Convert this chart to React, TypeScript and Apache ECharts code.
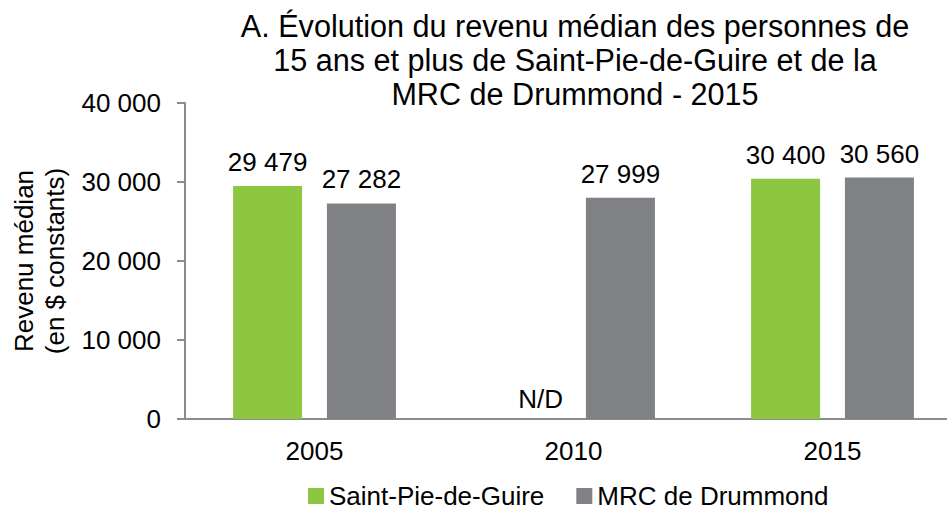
import React, { useEffect, useRef } from "react";
import * as echarts from "echarts";

const categories = ["2005", "2010", "2015"];
const seriesNames = ["Saint-Pie-de-Guire", "MRC de Drummond"];
const saintPieValues: (number | null)[] = [29479, null, 30400];
const mrcValues: number[] = [27282, 27999, 30560];
const titleLines = [
  "A. Évolution du revenu médian des personnes de",
  "15 ans et plus de Saint-Pie-de-Guire et de la",
  "MRC de Drummond - 2015",
];
const yAxisTitle = ["Revenu médian", "(en $ constants)"];
const missingLabel = "N/D";

const FONT = "'Liberation Sans', Arial, Helvetica, sans-serif";
const GREEN = "#8DC641";
const GREY = "#808184";
const AXIS = "#8C8C8C";

const fmt = (v: number) =>
  String(Math.round(v)).replace(/\B(?=(\d{3})+(?!\d))/g, " ");

export default function App() {
  const ref = useRef<HTMLDivElement>(null);
  useEffect(() => {
    if (!ref.current) return;
    const chart = echarts.init(ref.current, undefined, { renderer: "svg" });
    const labelStyle = {
      show: true,
      position: "top" as const,
      distance: 11,
      color: "#000",
      fontFamily: FONT,
      fontSize: 26,
      formatter: (p: any) => fmt(p.value),
    };
    const greenData = saintPieValues.map((v) =>
      v === null
        ? {
            value: 0,
            label: {
              show: true,
              position: "top",
              distance: 7,
              offset: [14, 0],
              color: "#000",
              fontFamily: FONT,
              fontSize: 26,
              formatter: missingLabel,
            },
          }
        : v
    );
    chart.setOption({
      animation: false,
      backgroundColor: "#fff",
      graphic: [
        {
          type: "text",
          x: 575,
          y: 9,
          style: {
            text: titleLines.join("\n"),
            fontFamily: FONT,
            fontSize: 30.6,
            lineHeight: 34,
            fill: "#000",
            textAlign: "center",
            textVerticalAlign: "top",
          },
        },
      ],
      legend: {
        data: seriesNames,
        left: 303,
        top: 478,
        itemWidth: 16,
        itemHeight: 16,
        itemGap: 32,
        icon: "rect",
        textStyle: { fontFamily: FONT, fontSize: 26, lineHeight: 26, color: "#000" },
      },
      grid: {
        left: 185,
        right: -15,
        top: 103,
        bottom: 90,
        containLabel: false,
        outerBoundsMode: "none",
      },
      xAxis: {
        type: "category",
        data: categories,
        axisLine: { lineStyle: { color: AXIS, width: 2 } },
        axisTick: { show: false },
        axisLabel: { color: "#000", fontFamily: FONT, fontSize: 26, margin: 19 },
      },
      yAxis: {
        type: "value",
        min: 0,
        max: 40000,
        interval: 10000,
        name: yAxisTitle.join("\n"),
        nameLocation: "middle",
        nameRotate: 90,
        nameGap: 115,
        nameTextStyle: { color: "#000", fontFamily: FONT, fontSize: 26, lineHeight: 31 },
        axisLine: { show: true, lineStyle: { color: AXIS, width: 2 } },
        axisTick: { show: true, length: 8, lineStyle: { color: AXIS, width: 2 } },
        splitLine: { show: false },
        axisLabel: {
          color: "#000",
          fontFamily: FONT,
          fontSize: 26,
          margin: 24,
          formatter: (v: number) => fmt(v),
        },
      },
      series: [
        {
          name: seriesNames[0],
          type: "bar",
          data: greenData,
          barWidth: 69,
          barGap: "36%",
          itemStyle: { color: GREEN },
          label: labelStyle,
        },
        {
          name: seriesNames[1],
          type: "bar",
          data: mrcValues,
          barWidth: 69,
          barGap: "36%",
          itemStyle: { color: GREY },
          label: labelStyle,
        },
      ],
    });
    return () => chart.dispose();
  }, []);
  return (
    <div
      ref={ref}
      style={{ position: "fixed", left: 0, top: 0, width: 947, height: 509 }}
    />
  );
}
